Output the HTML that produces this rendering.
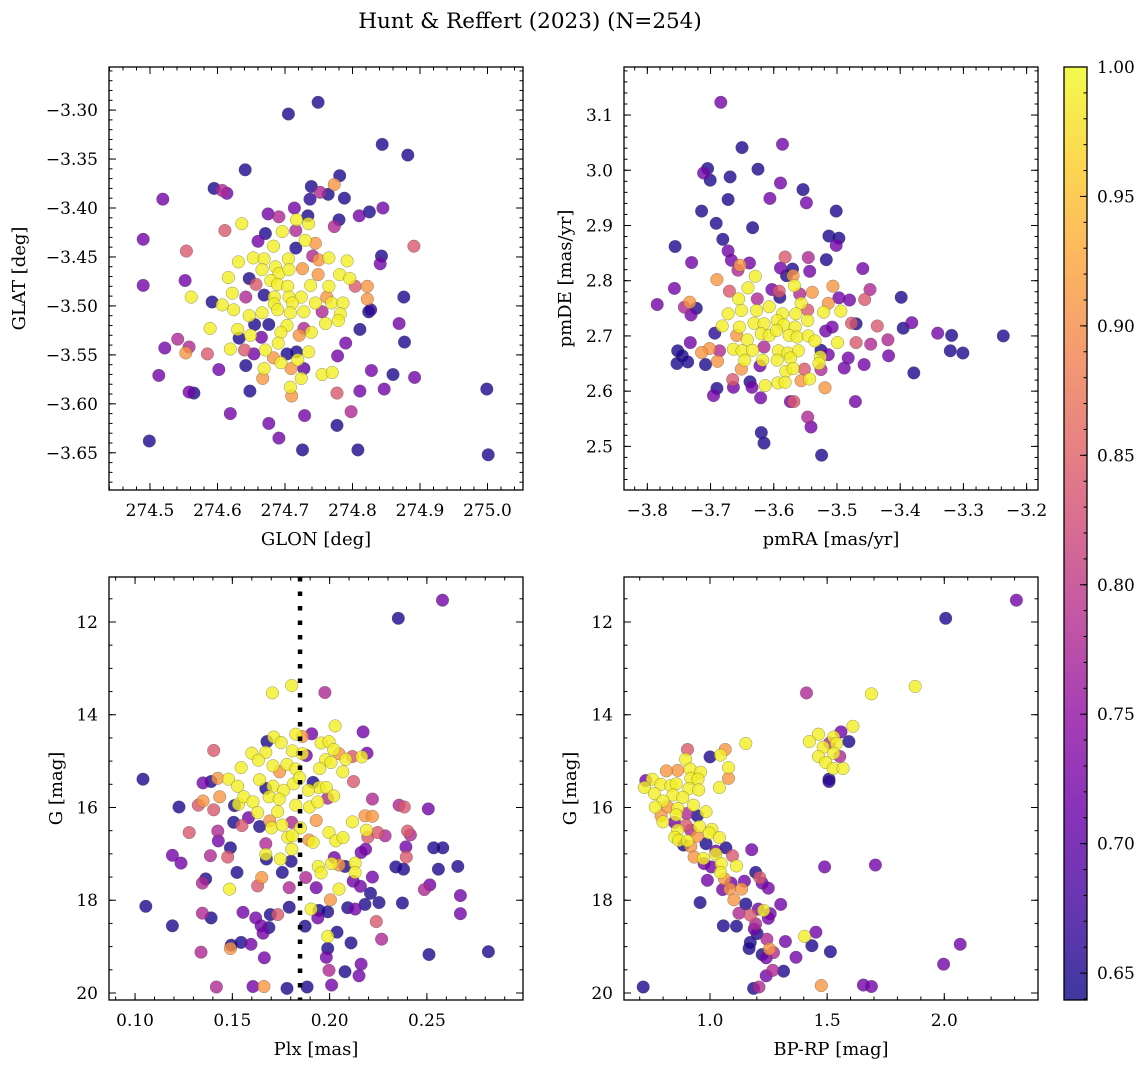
<!DOCTYPE html>
<html><head><meta charset="utf-8"><title>Hunt & Reffert (2023)</title>
<style>
html,body{margin:0;padding:0;background:#fff;}
svg{display:block;font-family:"DejaVu Serif","Liberation Serif",serif;}
</style></head>
<body>
<svg id="chart" width="1148" height="1067" viewBox="0 0 1148 1067" xmlns="http://www.w3.org/2000/svg">
<defs>
<linearGradient id="plasmaGrad" x1="0" y1="1" x2="0" y2="0">
<stop offset="0" stop-color="#0d0887" stop-opacity="0.8"/>
<stop offset="0.1" stop-color="#41049d" stop-opacity="0.8"/>
<stop offset="0.2" stop-color="#6a00a8" stop-opacity="0.8"/>
<stop offset="0.3" stop-color="#8f0da4" stop-opacity="0.8"/>
<stop offset="0.4" stop-color="#b12a90" stop-opacity="0.8"/>
<stop offset="0.5" stop-color="#cc4778" stop-opacity="0.8"/>
<stop offset="0.6" stop-color="#e16462" stop-opacity="0.8"/>
<stop offset="0.7" stop-color="#f2844b" stop-opacity="0.8"/>
<stop offset="0.8" stop-color="#fca636" stop-opacity="0.8"/>
<stop offset="0.9" stop-color="#fcce25" stop-opacity="0.8"/>
<stop offset="1" stop-color="#f0f921" stop-opacity="0.8"/>
</linearGradient>
</defs>
<text x="530" y="28" font-size="21.5" text-anchor="middle" fill="#000">Hunt &amp; Reffert (2023) (N=254)</text>
</svg>
<script>
// ---- Panel 1: GLON vs GLAT ----
const p1x=[274.749,274.705,274.844,274.882,274.641,274.519,274.595,274.607,274.614,274.781,274.773,274.752,274.739,274.737,274.764,274.788,274.714,274.675,274.691,274.734,274.810,274.825,274.845,274.780,274.773,274.636,274.717,274.735,274.611,274.490,274.554,274.660,274.671,274.696,274.716,274.730,274.745,274.683,274.716,274.891,274.843,274.841,274.631,274.653,274.669,274.705,274.741,274.750,274.765,274.792,274.726,274.666,274.686,274.691,274.706,274.781,274.796,274.749,274.490,274.552,274.616,274.647,274.657,274.679,274.689,274.704,274.738,274.765,274.804,274.822,274.561,274.622,274.642,274.669,274.684,274.706,274.724,274.762,274.822,274.876,274.592,274.607,274.624,274.684,274.711,274.745,274.769,274.786,274.647,274.666,274.689,274.708,274.728,274.755,274.782,274.824,274.827,274.655,274.676,274.703,274.589,274.630,274.728,274.760,274.779,274.811,274.869,274.739,274.694,274.649,274.721,274.541,274.632,274.665,274.690,274.790,274.877,274.522,274.558,274.553,274.585,274.619,274.640,274.654,274.671,274.703,274.717,274.735,274.778,274.683,274.694,274.719,274.513,274.602,274.642,274.669,274.667,274.709,274.728,274.755,274.770,274.724,274.828,274.860,274.892,274.708,274.710,274.558,274.565,274.648,274.777,274.811,274.847,274.999,274.619,274.729,274.798,274.676,274.777,274.499,274.691,274.726,274.808,275.001];
const p1y=[-3.292,-3.304,-3.335,-3.346,-3.361,-3.391,-3.380,-3.382,-3.385,-3.367,-3.376,-3.384,-3.378,-3.391,-3.386,-3.390,-3.400,-3.406,-3.409,-3.408,-3.408,-3.404,-3.400,-3.412,-3.419,-3.416,-3.412,-3.416,-3.423,-3.432,-3.444,-3.434,-3.426,-3.424,-3.423,-3.433,-3.436,-3.439,-3.441,-3.439,-3.449,-3.457,-3.455,-3.451,-3.452,-3.452,-3.449,-3.453,-3.451,-3.454,-3.462,-3.463,-3.460,-3.467,-3.463,-3.468,-3.472,-3.468,-3.479,-3.474,-3.471,-3.472,-3.478,-3.474,-3.478,-3.480,-3.479,-3.480,-3.480,-3.480,-3.491,-3.487,-3.491,-3.489,-3.491,-3.491,-3.491,-3.491,-3.493,-3.491,-3.496,-3.499,-3.504,-3.498,-3.497,-3.497,-3.497,-3.497,-3.510,-3.507,-3.504,-3.507,-3.506,-3.506,-3.508,-3.506,-3.504,-3.519,-3.519,-3.520,-3.523,-3.524,-3.523,-3.518,-3.515,-3.524,-3.518,-3.527,-3.527,-3.530,-3.530,-3.534,-3.533,-3.532,-3.538,-3.538,-3.537,-3.543,-3.542,-3.548,-3.549,-3.544,-3.545,-3.549,-3.545,-3.549,-3.547,-3.547,-3.551,-3.553,-3.558,-3.555,-3.571,-3.565,-3.561,-3.564,-3.574,-3.564,-3.564,-3.570,-3.568,-3.574,-3.566,-3.570,-3.573,-3.583,-3.592,-3.588,-3.589,-3.587,-3.589,-3.587,-3.585,-3.585,-3.610,-3.612,-3.608,-3.620,-3.622,-3.638,-3.635,-3.647,-3.647,-3.652];
const p1p=[.65,.65,.65,.65,.65,.72,.65,.78,.72,.65,.91,.78,.65,.66,.65,.65,.72,.72,.78,.65,.72,.65,.72,.65,.78,.99,.99,.99,.84,.72,.84,.72,.65,.99,.78,.99,.91,.99,.65,.84,.65,.72,.99,.99,.99,.99,.78,.91,.99,.99,.91,.99,.99,.99,.99,.99,.99,.91,.72,.72,.99,.65,.84,.99,.99,.99,.99,.99,.84,.91,.99,.99,.78,.65,.99,.99,.99,.91,.91,.65,.65,.99,.99,.99,.99,.99,.99,.99,.99,.99,.99,.99,.99,.78,.99,.65,.66,.65,.65,.99,.99,.99,.78,.99,.99,.65,.72,.99,.99,.99,.91,.78,.65,.72,.99,.72,.65,.72,.78,.91,.84,.99,.84,.72,.99,.65,.65,.99,.72,.91,.99,.99,.72,.72,.65,.99,.91,.91,.70,.99,.99,.99,.72,.65,.72,.99,.91,.72,.65,.65,.84,.72,.72,.65,.72,.72,.78,.72,.65,.65,.72,.65,.65,.65];

// ---- Panel 2: pmRA vs pmDE ----
const p2x=[-3.6837,-3.6502,-3.5862,-3.7047,-3.7110,-3.7005,-3.6690,-3.6250,-3.5893,-3.5537,-3.6061,-3.5484,-3.6722,-3.7142,-3.5012,-3.6911,-3.6334,-3.6806,-3.5127,-3.4970,-3.5012,-3.7561,-3.6722,-3.6670,-3.7299,-3.6533,-3.6386,-3.6565,-3.5820,-3.5453,-3.5169,-3.5893,-3.5704,-3.5432,-3.4592,-3.6900,-3.6292,-3.5799,-3.5694,-3.7572,-3.6701,-3.6407,-3.6030,-3.5914,-3.5673,-3.5589,-3.5390,-3.5065,-3.4477,-3.3984,-3.7844,-3.7330,-3.7414,-3.7225,-3.7309,-3.6554,-3.6260,-3.6072,-3.5904,-3.5568,-3.5138,-3.4970,-3.4802,-3.4561,-3.6722,-3.6512,-3.6271,-3.5862,-3.5652,-3.5463,-3.5211,-3.4939,-3.6816,-3.6544,-3.6313,-3.6155,-3.5946,-3.5841,-3.5662,-3.5463,-3.5179,-3.5075,-3.4771,-3.4697,-3.4362,-3.3953,-3.3816,-3.3407,-3.3187,-3.2369,-3.6932,-3.6586,-3.6418,-3.6197,-3.6072,-3.5956,-3.5757,-3.5631,-3.5453,-3.5348,-3.4991,-3.4697,-3.4467,-3.4194,-3.7320,-3.7016,-3.7519,-3.7446,-3.7142,-3.6858,-3.6638,-3.6502,-3.6334,-3.6155,-3.5925,-3.5778,-3.5610,-3.5253,-3.5138,-3.3208,-3.3008,-3.7530,-3.7362,-3.7079,-3.6890,-3.6460,-3.6176,-3.5946,-3.5736,-3.5264,-3.5285,-3.4823,-3.4571,-3.4183,-3.6512,-3.6218,-3.5809,-3.5694,-3.5516,-3.5253,-3.4886,-3.3785,-3.6649,-3.6638,-3.6376,-3.6344,-3.6135,-3.5935,-3.5820,-3.5568,-3.5432,-3.5190,-3.6900,-3.6953,-3.6208,-3.5736,-3.5683,-3.4708,-3.5463,-3.5411,-3.6197,-3.6155,-3.5243];
const p2y=[3.123,3.041,3.047,3.003,2.995,2.982,2.988,3.002,2.977,2.965,2.949,2.941,2.947,2.926,2.926,2.904,2.896,2.875,2.881,2.877,2.864,2.862,2.854,2.837,2.833,2.828,2.832,2.819,2.843,2.842,2.838,2.823,2.821,2.817,2.822,2.802,2.808,2.809,2.809,2.786,2.781,2.787,2.784,2.781,2.791,2.776,2.779,2.790,2.784,2.770,2.757,2.761,2.752,2.750,2.738,2.767,2.767,2.753,2.770,2.759,2.759,2.769,2.765,2.766,2.740,2.746,2.746,2.740,2.740,2.747,2.743,2.745,2.718,2.716,2.723,2.722,2.728,2.720,2.716,2.728,2.709,2.716,2.723,2.722,2.718,2.714,2.724,2.705,2.701,2.700,2.705,2.701,2.693,2.704,2.701,2.710,2.701,2.698,2.700,2.691,2.688,2.688,2.685,2.693,2.688,2.677,2.673,2.664,2.670,2.673,2.676,2.673,2.674,2.680,2.673,2.669,2.673,2.674,2.666,2.673,2.669,2.650,2.653,2.648,2.654,2.656,2.656,2.656,2.660,2.662,2.650,2.660,2.648,2.664,2.640,2.646,2.636,2.641,2.640,2.639,2.642,2.633,2.621,2.607,2.617,2.607,2.610,2.615,2.616,2.619,2.622,2.606,2.605,2.592,2.588,2.581,2.581,2.581,2.553,2.535,2.525,2.506,2.484];
const p2p=[.72,.65,.72,.65,.72,.65,.65,.65,.72,.65,.72,.72,.65,.65,.65,.65,.65,.65,.65,.65,.72,.65,.72,.72,.72,.91,.72,.78,.84,.78,.65,.72,.65,.72,.72,.91,.99,.65,.91,.72,.84,.99,.72,.84,.99,.78,.91,.91,.78,.65,.72,.91,.78,.65,.72,.99,.78,.99,.65,.99,.91,.72,.72,.84,.99,.99,.99,.99,.99,.84,.99,.99,.99,.99,.99,.99,.99,.99,.99,.99,.72,.72,.84,.65,.84,.65,.72,.72,.65,.65,.66,.91,.99,.99,.99,.99,.99,.99,.99,.99,.99,.84,.78,.78,.72,.91,.65,.65,.91,.78,.99,.99,.99,.78,.99,.99,.99,.65,.72,.65,.65,.65,.65,.65,.91,.99,.99,.99,.99,.99,.99,.72,.72,.72,.91,.72,.99,.99,.84,.78,.72,.65,.84,.72,.65,.72,.99,.99,.99,.91,.99,.91,.65,.72,.72,.72,.84,.72,.78,.72,.65,.65,.65];

// ---- Panel 3: Plx vs G ----
const p3x=[.2580,.2353,.1805,.1706,.1976,.2028,.2172,.1826,.1908,.1860,.1678,.1713,.1751,.1956,.1997,.1404,.1600,.1672,.1808,.1880,.2021,.2048,.2117,.2165,.2192,.1634,.1781,.1860,.1980,.2083,.1545,.1709,.1743,.1826,.1949,.2007,.2068,.1041,.1349,.1391,.1425,.1480,.1527,.1640,.1672,.1709,.1764,.1815,.1846,.1915,.1945,.1983,.1891,.2123,.1349,.1325,.1435,.1226,.1404,.1511,.1531,.1559,.1606,.1689,.1741,.1826,.1897,.1939,.1990,.2021,.2220,.2357,.2384,.2507,.1630,.1733,.1692,.1931,.2117,.2182,.2220,.1507,.1549,.1583,.1640,.1702,.1757,.1805,.1850,.1278,.1425,.1428,.1785,.1808,.1894,.1915,.1997,.2032,.2069,.2189,.2196,.2247,.2285,.2401,.2415,.1192,.1236,.1387,.1476,.1490,.1672,.1672,.1675,.1747,.1805,.1802,.1942,.1956,.2010,.2024,.2048,.2079,.2131,.2131,.2162,.2185,.2392,.2394,.2340,.2380,.2535,.2582,.2559,.2659,.1524,.1757,.1363,.1346,.1486,.1651,.1630,.1792,.1877,.1931,.2048,.2121,.2158,.2220,.2210,.2254,.2374,.2487,.2515,.2672,.2672,.1055,.1192,.1346,.1391,.1555,.1620,.1648,.1688,.1658,.1695,.1733,.1792,.1874,.1905,.1945,.1939,.1990,.2004,.2093,.2131,.2182,.2240,.2038,.1990,.2267,.1339,.1494,.1490,.1545,.1596,.1664,.1990,.1983,.2110,.1997,.2079,.2162,.2151,.2511,.2816,.1418,.1606,.1662,.1781,.1884,.2010];
const p3y=[11.53,11.92,13.37,13.53,13.52,14.24,14.37,14.42,14.41,14.47,14.58,14.48,14.60,14.61,14.58,14.77,14.83,14.81,14.78,14.88,14.75,14.84,14.90,14.91,14.83,14.98,15.07,14.84,14.97,14.96,15.14,15.10,15.23,15.17,15.16,15.03,15.23,15.39,15.47,15.44,15.37,15.39,15.54,15.40,15.59,15.54,15.63,15.49,15.36,15.46,15.57,15.57,15.63,15.44,15.86,15.95,15.77,15.99,16.05,15.96,15.93,15.77,15.88,15.77,15.82,15.95,15.99,15.88,15.80,15.75,15.82,15.95,15.99,16.03,16.11,16.09,16.29,16.28,16.31,16.18,16.19,16.32,16.39,16.22,16.41,16.44,16.38,16.32,16.44,16.54,16.51,16.72,16.64,16.61,16.70,16.75,16.54,16.72,16.65,16.49,16.64,16.54,16.61,16.51,16.59,17.03,17.20,17.04,17.07,16.87,16.78,17.01,17.11,17.11,16.90,17.16,17.27,17.41,17.21,17.08,17.24,17.27,17.20,17.40,16.97,16.90,16.85,17.07,17.28,17.33,16.87,16.87,17.33,17.27,17.40,17.40,17.54,17.63,17.76,17.51,17.69,17.73,17.51,17.73,17.76,17.59,17.70,17.50,17.85,18.05,18.06,17.77,17.67,17.90,18.29,18.13,18.55,18.28,18.38,18.26,18.38,18.55,18.59,18.71,18.31,18.31,18.15,18.56,18.19,18.22,18.38,18.25,17.99,18.16,18.19,18.09,18.46,18.69,18.78,18.84,19.12,18.97,19.04,18.91,18.95,19.24,19.04,19.23,18.92,19.51,19.54,19.38,19.63,19.17,19.11,19.87,19.86,19.86,19.90,19.87,19.83];
const p3p=[.72,.65,.99,.99,.78,.99,.72,.99,.72,.91,.65,.99,.99,.99,.99,.84,.99,.99,.99,.72,.99,.91,.84,.99,.72,.99,.99,.99,.99,.99,.99,.99,.91,.99,.99,.99,.99,.65,.72,.65,.91,.99,.99,.99,.65,.99,.99,.99,.99,.65,.99,.99,.99,.84,.91,.84,.91,.65,.84,.65,.99,.99,.99,.99,.99,.99,.99,.99,.78,.99,.78,.78,.84,.72,.99,.99,.91,.91,.99,.91,.91,.65,.84,.72,.65,.99,.99,.78,.99,.84,.78,.72,.99,.99,.91,.99,.99,.99,.99,.99,.84,.84,.78,.84,.78,.72,.72,.78,.84,.65,.78,.99,.65,.99,.99,.65,.99,.99,.99,.72,.91,.65,.99,.99,.72,.72,.72,.84,.65,.65,.65,.65,.65,.65,.65,.65,.65,.78,.99,.91,.84,.78,.78,.72,.99,.72,.72,.72,.65,.65,.65,.78,.72,.72,.72,.65,.65,.78,.65,.72,.72,.72,.65,.72,.65,.84,.65,.65,.99,.65,.72,.65,.91,.65,.72,.65,.84,.65,.99,.78,.78,.65,.91,.65,.72,.72,.65,.72,.65,.78,.65,.72,.72,.65,.65,.78,.72,.91,.65,.65,.72];

// ---- Panel 4: BP-RP vs G ----
const p4x=[2.308,2.006,1.412,1.689,1.876,1.610,1.559,1.463,1.528,1.593,1.424,1.511,1.540,1.483,1.463,1.528,1.554,1.494,1.526,1.568,1.508,1.508,1.153,1.000,1.045,1.065,1.079,1.079,1.040,0.904,0.896,0.862,0.814,0.915,0.960,0.918,0.949,0.726,0.754,0.720,0.791,0.833,0.856,0.910,0.952,0.763,0.842,0.884,0.799,0.766,0.819,0.862,0.929,0.901,0.983,0.791,0.856,0.799,0.848,0.946,0.898,0.918,0.955,1.008,0.862,0.850,0.867,0.904,0.946,0.997,1.040,0.887,0.918,0.983,1.025,1.068,0.932,0.972,1.025,1.096,0.975,1.006,1.048,1.113,1.178,0.989,1.045,1.062,1.090,1.147,1.195,1.212,1.223,1.249,1.054,1.085,1.135,1.102,1.153,1.124,1.172,1.206,1.229,1.257,1.249,1.302,0.958,1.057,1.113,1.195,1.189,1.201,1.243,1.172,1.167,1.254,1.223,1.271,1.240,1.322,1.367,1.404,1.452,1.435,1.514,1.489,1.706,1.268,1.240,1.314,0.715,1.186,1.209,1.475,1.655,1.689,1.997,2.068];
const p4y=[11.53,11.92,13.53,13.55,13.39,14.25,14.37,14.42,14.48,14.58,14.58,14.61,14.62,14.70,14.90,14.83,14.90,15.03,15.16,15.16,15.39,15.44,14.62,14.91,14.87,14.75,15.14,15.37,15.57,14.75,14.96,15.20,15.21,15.17,15.24,15.37,15.39,15.42,15.39,15.57,15.50,15.53,15.49,15.59,15.62,15.70,15.73,15.78,15.86,15.99,15.99,16.02,15.95,16.13,16.09,16.18,16.16,16.31,16.32,16.18,16.38,16.49,16.41,16.47,16.49,16.64,16.71,16.72,16.62,16.55,16.65,16.81,16.84,16.78,16.94,16.87,17.07,17.10,17.00,17.04,17.21,17.28,17.21,17.26,16.91,17.57,17.40,17.54,17.63,17.59,17.40,17.51,17.63,17.74,17.77,17.76,17.76,17.99,18.08,18.28,18.32,18.19,18.22,18.29,18.39,18.09,18.05,18.55,18.56,18.51,18.62,18.72,18.84,18.91,19.04,19.05,19.17,19.13,19.24,18.89,19.23,18.78,18.69,18.98,19.11,17.28,17.24,19.51,19.63,19.53,19.87,19.90,19.87,19.84,19.83,19.86,19.38,18.95];
const p4p=[.72,.65,.78,.99,.99,.99,.72,.99,.99,.65,.99,.78,.99,.99,.99,.99,.78,.99,.99,.99,.65,.66,.99,.65,.99,.91,.99,.91,.99,.84,.99,.91,.91,.99,.99,.99,.99,.72,.99,.99,.99,.99,.99,.99,.99,.99,.99,.99,.99,.99,.91,.99,.99,.78,.99,.91,.99,.99,.72,.65,.84,.78,.99,.99,.99,.99,.99,.99,.91,.99,.99,.65,.91,.65,.72,.65,.91,.99,.99,.84,.72,.72,.99,.99,.72,.72,.99,.91,.72,.72,.65,.84,.72,.72,.72,.91,.91,.91,.65,.78,.84,.72,.99,.72,.72,.72,.65,.65,.65,.78,.72,.65,.78,.65,.65,.91,.65,.78,.72,.72,.72,.99,.72,.65,.65,.72,.72,.78,.72,.65,.65,.65,.78,.91,.72,.72,.72,.72];

// ---- Colorbar / reference line ----
const cbTicks=[0.65,0.70,0.75,0.80,0.85,0.90,0.95,1.00];
const plxRef=[0.1848];

const NS="http://www.w3.org/2000/svg";
const svg=document.getElementById('chart');
const VMIN=0.6396,VMAX=1.0;
const TICKFS=17, LABELFS=18;
const stops=[[0,[13,8,135]],[0.1,[65,4,157]],[0.2,[106,0,168]],[0.3,[143,13,164]],[0.4,[177,42,144]],[0.5,[204,71,120]],[0.6,[225,100,98]],[0.7,[242,132,75]],[0.8,[252,166,54]],[0.9,[252,206,37]],[1,[240,249,33]]];
function plasma(v){let t=(v-VMIN)/(VMAX-VMIN);t=Math.max(0,Math.min(1,t));
 for(let i=1;i<stops.length;i++){if(t<=stops[i][0]){const a=stops[i-1],b=stops[i];const f=(t-a[0])/(b[0]-a[0]);
 const c=a[1].map((x,k)=>Math.round(x+(b[1][k]-x)*f));return `rgb(${c[0]},${c[1]},${c[2]})`;}}
 return 'rgb(240,249,33)';}
function el(tag,attrs,parent){const e=document.createElementNS(NS,tag);for(const k in attrs)e.setAttribute(k,attrs[k]);(parent||svg).appendChild(e);return e;}
function fmt(v,d){const s=Math.abs(v).toFixed(d);return (v<-1e-9?'\u2212':'')+s;}

function panel(cfg){
 const g=el('g',{});
 
 
 const L=cfg.L,T=cfg.T,W=cfg.W,H=cfg.H;
 const sx=v=>L+(v-cfg.x0)/(cfg.x1-cfg.x0)*W;
 const sy=v=>T+(v-cfg.yTop)/(cfg.yBot-cfg.yTop)*H;
 const idx=[];const n=Math.min(cfg.xs.length,cfg.ys.length,cfg.ps.length);
 for(let i=0;i<n;i++)idx.push(i);
 idx.sort((a,b)=>cfg.ps[a]-cfg.ps[b]);
 const pg=el('g',{},g);
 
 
 idx.forEach(i=>{
  const c=el('circle',{cx:sx(cfg.xs[i]).toFixed(1),cy:sy(cfg.ys[i]).toFixed(1),r:6.3,fill:plasma(cfg.ps[i]),'fill-opacity':0.8,stroke:'#444','stroke-opacity':0.55,'stroke-width':0.5},pg);
  
  
 });
 if(cfg.after)cfg.after(g,sx,sy);
 const tk=el('g',{stroke:'#000','stroke-width':1},g);
 
 
 function ticks(a0,a1,step){const out=[];const s=Math.ceil(Math.min(a0,a1)/step-1e-6),e=Math.floor(Math.max(a0,a1)/step+1e-6);for(let k=s;k<=e;k++)out.push(+(k*step).toFixed(6));return out;}
 ticks(cfg.x0,cfg.x1,cfg.xMin).forEach(v=>{const x=sx(v);el('line',{x1:x,x2:x,y1:T+H,y2:T+H-3.5},tk);el('line',{x1:x,x2:x,y1:T,y2:T+3.5},tk);});
 ticks(cfg.yTop,cfg.yBot,cfg.yMin).forEach(v=>{const y=sy(v);el('line',{x1:L,x2:L+3.5,y1:y,y2:y},tk);el('line',{x1:L+W,x2:L+W-3.5,y1:y,y2:y},tk);});
 ticks(cfg.x0,cfg.x1,cfg.xMaj).forEach(v=>{const x=sx(v);el('line',{x1:x,x2:x,y1:T+H,y2:T+H-7},tk);el('line',{x1:x,x2:x,y1:T,y2:T+7},tk);
  const t=el('text',{x:x,y:T+H+26,'font-size':TICKFS,'text-anchor':'middle'},g);t.textContent=fmt(v,cfg.xd);
  
  });
 ticks(cfg.yTop,cfg.yBot,cfg.yMaj).forEach(v=>{const y=sy(v);el('line',{x1:L,x2:L+7,y1:y,y2:y},tk);el('line',{x1:L+W,x2:L+W-7,y1:y,y2:y},tk);
  const t=el('text',{x:L-11,y:y+6,'font-size':TICKFS,'text-anchor':'end'},g);t.textContent=fmt(v,cfg.yd);
  
  });
 const fr=el('rect',{x:L,y:T,width:W,height:H,fill:'none',stroke:'#000','stroke-width':1.3},g);
 
 
 const xl=el('text',{x:L+W/2,y:T+H+55,'font-size':LABELFS,'text-anchor':'middle'},g);xl.textContent=cfg.xl;
 
 
 const yl=el('text',{x:0,y:0,'font-size':LABELFS,'text-anchor':'middle',transform:`translate(${cfg.ylx},${T+H/2}) rotate(-90)`},g);yl.textContent=cfg.yl;
 
 
}

panel({name:'glon-glat-panel',L:109,T:67,W:414,H:423,x0:274.4393,x1:275.0526,yTop:-3.256,yBot:-3.688,xMaj:0.1,xMin:0.02,yMaj:0.05,yMin:0.01,xd:1,yd:2,xs:p1x,ys:p1y,ps:p1p,xl:'GLON [deg]',yl:'GLAT [deg]',ylx:25});
panel({name:'proper-motion-panel',L:624,T:67,W:414,H:423,x0:-3.8369,x1:-3.182,yTop:3.187,yBot:2.421,xMaj:0.1,xMin:0.02,yMaj:0.1,yMin:0.02,xd:1,yd:1,xs:p2x,ys:p2y,ps:p2p,xl:'pmRA [mas/yr]',yl:'pmDE [mas/yr]',ylx:571});
panel({name:'parallax-panel',L:109,T:577,W:414,H:423,x0:0.0866,x1:0.2994,yTop:11.030,yBot:20.151,xMaj:0.05,xMin:0.01,yMaj:2,yMin:0.5,xd:2,yd:0,xs:p3x,ys:p3y,ps:p3p,xl:'Plx [mas]',yl:'G [mag]',ylx:62,
 after:(g,sx,sy)=>{plxRef.forEach(v=>{const ln=el('line',{x1:sx(v),x2:sx(v),y1:577,y2:1000,stroke:'#000','stroke-width':4.5,'stroke-dasharray':'4.5 10'},g);
  
  });}});
panel({name:'cmd-panel',L:624,T:577,W:414,H:423,x0:0.633,x1:2.400,yTop:11.030,yBot:20.151,xMaj:0.5,xMin:0.1,yMaj:2,yMin:0.5,xd:1,yd:0,xs:p4x,ys:p4y,ps:p4p,xl:'BP-RP [mag]',yl:'G [mag]',ylx:576});

const cbL=1064,cbT=67,cbW=23,cbH=933;
const cg=el('g',{});


el('rect',{x:cbL,y:cbT,width:cbW,height:cbH,fill:'url(#plasmaGrad)'},cg);
const cy=v=>cbT+(VMAX-v)/(VMAX-VMIN)*cbH;
for(let k=64;k<=100;k++){const y=cy(k/100);el('line',{x1:cbL+cbW,x2:cbL+cbW-3.5,y1:y,y2:y,stroke:'#000','stroke-width':1},cg);}
cbTicks.forEach(v=>{const y=cy(v);el('line',{x1:cbL+cbW,x2:cbL+cbW-7,y1:y,y2:y,stroke:'#000','stroke-width':1},cg);
 const t=el('text',{x:cbL+cbW+10,y:y+6,'font-size':TICKFS},cg);t.textContent=v.toFixed(2);
 
 });
el('rect',{x:cbL,y:cbT,width:cbW,height:cbH,fill:'none',stroke:'#000','stroke-width':1.3},cg);
</script>
</body></html>
